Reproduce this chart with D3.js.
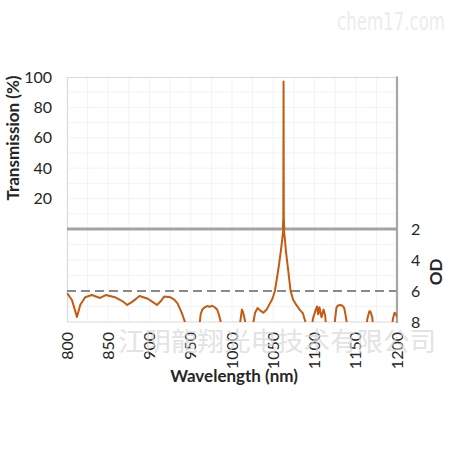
<!DOCTYPE html>
<html>
<head>
<meta charset="utf-8">
<script src="https://cdn.jsdelivr.net/npm/d3@7"></script>
<style>
  body { margin: 0; background: #fff; }
  text { font-family: Lato, "Open Sans", sans-serif; fill: #262626; }
</style>
</head>
<body>
<script>
// wavelength ticks (nm)
var xTicks = [800, 850, 900, 950, 1000, 1050, 1100, 1150, 1200];
var tTicks = [20, 40, 60, 80, 100];
var odTicks = [2, 4, 6, 8];

// transmission peak (upper panel), [nm, %]
var peakT = [[1061.7, 0], [1062.2, 8], [1062.5, 97], [1062.8, 8], [1063.3, 0]];

// blocking level (lower panel), [nm, OD]; values past 8 run off the chart
var odCurve = [
  [800, 6.13], [806, 6.58], [810, 7.3], [812, 7.68], [814, 7.3], [816, 6.9], [822, 6.4],
  [830, 6.26], [840, 6.45], [847, 6.26], [858, 6.4], [867, 6.65], [873, 6.9], [879, 6.7],
  [888, 6.32], [898, 6.5], [909, 6.9], [913, 6.7], [918, 6.35], [925, 6.4], [930, 6.55],
  [934, 6.8], [939, 7.4], [943, 8.0], [946, 9],
  [958, 9], [961, 8.0], [962, 7.5], [964, 7.2], [967, 7.05], [970, 6.97], [973, 7.02],
  [976, 6.95], [979, 7.05], [982, 7.2], [984, 7.5], [986, 7.9], [988, 9],
  [1008, 9], [1010, 8.0], [1012, 7.2], [1013, 7.3], [1014.5, 7.6], [1016, 8.0], [1018, 9],
  [1024, 9], [1026, 8.0], [1028, 7.4], [1031, 7.1], [1034, 7.25], [1038, 7.4], [1042, 7.2],
  [1046, 6.8], [1049, 6.5], [1052, 6.0], [1055, 5.0], [1057, 4.3], [1059.5, 3.3],
  [1061, 2.6], [1062, 2.1], [1062.5, 1.6], [1063, 2.1], [1064, 2.6],
  [1065.5, 3.5], [1068, 4.6], [1071, 6.0], [1074, 6.55], [1078, 6.9], [1082, 7.2],
  [1086, 7.45], [1089, 8.0], [1091, 9],
  [1096, 9], [1098, 7.8], [1101, 7.3], [1103, 7.0], [1104.5, 7.5], [1106, 7.05],
  [1108.5, 7.7], [1111, 7.2], [1113, 7.6], [1115, 9],
  [1123, 9], [1125, 7.8], [1126.5, 7.1], [1128, 6.95], [1131, 6.9], [1134, 6.95],
  [1136, 7.1], [1137.5, 7.5], [1139, 8.0], [1141, 9],
  [1162, 9], [1164, 7.8], [1166.5, 7.3], [1168, 7.35], [1170, 7.7], [1172, 9],
  [1193, 9], [1195, 7.8], [1197, 7.4], [1199, 7.5], [1200, 7.7]
];

var W = 451, H = 451;
var pLeft = 67, pRight = 397, pTop = 77, pMid = 229, pBottom = 322;

var svg = d3.select("body").append("svg").attr("width", W).attr("height", H);

var x = d3.scaleLinear().domain([800, 1200]).range([pLeft, pRight]);
var yT = d3.scaleLinear().domain([0, 100]).range([pMid, pTop]);
var yOD = d3.scaleLinear().domain([2, 8]).range([pMid, pBottom]);

// watermark
svg.append("text").attr("x", 337).attr("y", 30)
    .attr("textLength", 108).attr("lengthAdjust", "spacingAndGlyphs")
    .style("font-family", "'DejaVu Sans', sans-serif").style("font-size", "24px")
    .style("fill", "#ececec").text("chem17.com");

// light grid
var grid = svg.append("g").attr("stroke", "#f3f3f3").attr("stroke-width", 1);
grid.selectAll(".v").data(d3.range(825, 1200, 25)).enter().append("line")
    .attr("x1", d => x(d)).attr("x2", d => x(d)).attr("y1", pTop).attr("y2", pBottom);
grid.selectAll(".h").data(d3.range(10, 100, 10)).enter().append("line")
    .attr("x1", pLeft).attr("x2", pRight).attr("y1", d => yT(d)).attr("y2", d => yT(d));
grid.selectAll(".o").data([3, 4, 5, 7]).enter().append("line")
    .attr("x1", pLeft).attr("x2", pRight).attr("y1", d => yOD(d)).attr("y2", d => yOD(d));

// frame
svg.append("path").attr("fill", "none").attr("stroke", "#d9d9d9").attr("stroke-width", 1.2)
    .attr("d", "M" + pRight + "," + (pTop + 0.5) + "H" + (pLeft + 0.5) + "V" + pBottom + "H" + pRight);
svg.append("line").attr("x1", pRight).attr("x2", pRight).attr("y1", pTop - 0.5).attr("y2", pBottom + 1)
    .attr("stroke", "#a6a6a6").attr("stroke-width", 2.2);

// OD 6 dashed and T=0/OD 2 divider
svg.append("line").attr("x1", pLeft).attr("x2", pRight - 1).attr("y1", yOD(6)).attr("y2", yOD(6))
    .attr("stroke", "#8a8a8a").attr("stroke-width", 2).attr("stroke-dasharray", "9,5");
svg.append("line").attr("x1", pLeft).attr("x2", pRight).attr("y1", pMid).attr("y2", pMid)
    .attr("stroke", "#a3a3a3").attr("stroke-width", 3.2);

// clip regions
var defs = svg.append("defs");
defs.append("clipPath").attr("id", "clipOD").append("rect")
    .attr("x", pLeft).attr("y", pMid).attr("width", pRight - pLeft).attr("height", pBottom - pMid);
defs.append("clipPath").attr("id", "clipT").append("rect")
    .attr("x", pLeft).attr("y", pTop).attr("width", pRight - pLeft).attr("height", pMid - pTop);

var lineOD = d3.line().x(d => x(d[0])).y(d => yOD(d[1]));
var lineT = d3.line().x(d => x(d[0])).y(d => yT(d[1]));

svg.append("path").datum(odCurve).attr("clip-path", "url(#clipOD)")
    .attr("fill", "none").attr("stroke", "#c55a11").attr("stroke-width", 2)
    .attr("stroke-linejoin", "round").attr("d", lineOD);
svg.append("path").datum(peakT).attr("clip-path", "url(#clipT)")
    .attr("fill", "none").attr("stroke", "#c55a11").attr("stroke-width", 2)
    .attr("stroke-linejoin", "round").attr("d", lineT);

// tick labels
svg.selectAll(".tl").data(tTicks).enter().append("text")
    .attr("x", 52).attr("y", d => yT(d)).attr("dy", "0.35em").attr("text-anchor", "end")
    .style("font-size", "16px").text(d => d);
svg.selectAll(".ol").data(odTicks).enter().append("text")
    .attr("x", 411).attr("y", d => yOD(d)).attr("dy", "0.35em")
    .style("font-size", "16px").text(d => d);
svg.selectAll(".xl").data(xTicks).enter().append("text")
    .attr("transform", d => "translate(" + x(d) + ",332) rotate(-90)")
    .attr("dy", "0.35em").attr("text-anchor", "end")
    .style("font-size", "16px").text(d => d);

// axis titles
svg.append("text").attr("transform", "translate(19,138) rotate(-90)").attr("text-anchor", "middle")
    .style("font-size", "17px").style("font-weight", "bold").text("Transmission (%)");
svg.append("text").attr("transform", "translate(442,272) rotate(-90)").attr("text-anchor", "middle")
    .style("font-size", "17px").style("font-weight", "bold").text("OD");
svg.append("text").attr("x", 234).attr("y", 382).attr("text-anchor", "middle")
    .style("font-size", "17px").style("font-weight", "bold").text("Wavelength (nm)");

// company watermark over the x labels
svg.append("text").attr("x", 118).attr("y", 351)
    .style("font-family", "'Noto Sans CJK SC', sans-serif").style("font-size", "26.5px")
    .style("fill", "#d8d8d8").style("opacity", 0.7).text("江阴龍翔光电技术有限公司");
</script>
</body>
</html>
